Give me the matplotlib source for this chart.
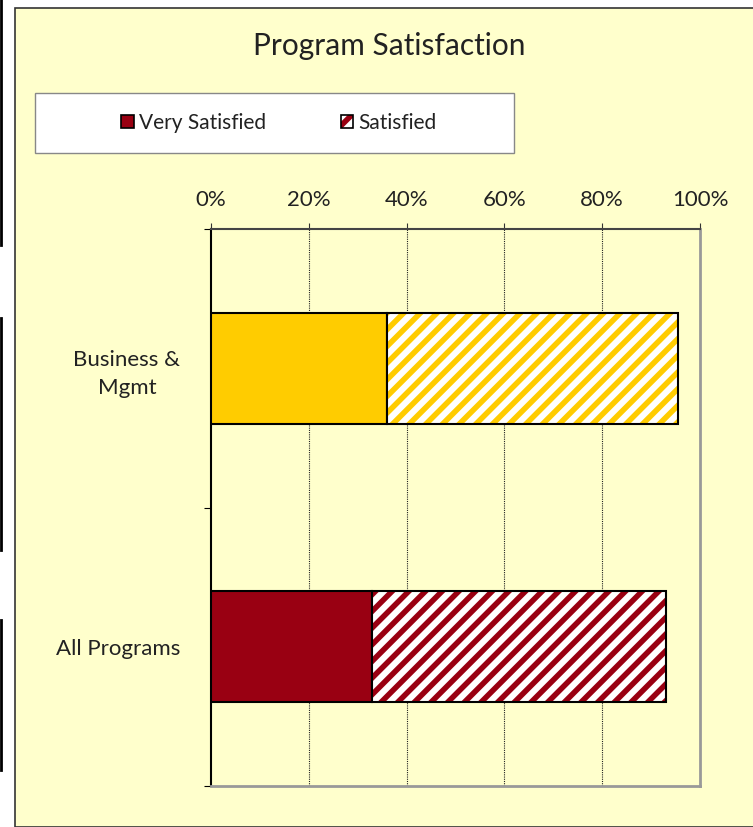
import matplotlib.pyplot as plt
from matplotlib.patches import Patch, Rectangle
from matplotlib.lines import Line2D

plt.rcParams['font.family'] = ['Lato', 'DejaVu Sans']
plt.rcParams['hatch.linewidth'] = 4

categories = ['Business &\nMgmt', 'All Programs']
very_satisfied = [36, 33]
satisfied = [59.5, 60]
colors = ['#FFCC00', '#990012']
xticks = [0, 20, 40, 60, 80, 100]

fig = plt.figure(figsize=(7.53, 8.27), dpi=100)
fig.patch.set_facecolor('white')

# chart area background
fig.patches.append(Rectangle((15 / 753, 0), 1, 1 - 8 / 827, transform=fig.transFigure,
                             facecolor='#FFFFCC', edgecolor='#333333', lw=1.2, zorder=-2))
# stray borders on the left edge
for y0, y1 in [(0, 245), (318, 550), (620, 770)]:
    fig.lines.append(Line2D([1 / 753, 1 / 753], [1 - y0 / 827, 1 - y1 / 827],
                            transform=fig.transFigure, color='black', lw=2))

ax = fig.add_axes([211 / 753, 1 - 786 / 827, 489 / 753, 557 / 827])
ax.set_facecolor('#FFFFCC')

ypos = [0.5, 1.5]
for i in range(len(categories)):
    ax.barh(ypos[i], very_satisfied[i], height=0.4, color=colors[i],
            edgecolor='black', lw=1.5, zorder=3)
    ax.barh(ypos[i], satisfied[i], left=very_satisfied[i], height=0.4, color='white',
            edgecolor=colors[i], hatch='//', lw=0, zorder=3)
    ax.barh(ypos[i], satisfied[i], left=very_satisfied[i], height=0.4, color='none',
            edgecolor='black', lw=1.5, zorder=4)

ax.set_xlim(0, 100)
ax.set_ylim(2, 0)
ax.xaxis.tick_top()
ax.set_xticks(xticks)
ax.set_xticklabels([f'{t}%' for t in xticks], fontsize=16, color='#222222')
ax.tick_params(axis='x', direction='out', length=4, pad=10, color='#333333')
ax.set_yticks([0, 1, 2])
ax.set_yticklabels([])
ax.tick_params(axis='y', which='major', direction='out', length=5, color='black')
ax.set_yticks(ypos, minor=True)
ax.set_yticklabels(categories, minor=True, fontsize=16, ha='right', ma='center',
                   linespacing=1.5, color='#222222')
ax.tick_params(axis='y', which='minor', length=0, pad=22)

for t in xticks[1:-1]:
    ax.axvline(t, color='#222222', lw=0.8, ls=(0, (1, 1)), zorder=1)

ax.spines['top'].set_color('#444444')
ax.spines['top'].set_linewidth(1.5)
ax.spines['left'].set_color('black')
ax.spines['left'].set_linewidth(1.5)
ax.spines['right'].set_color('#999999')
ax.spines['right'].set_linewidth(2)
ax.spines['bottom'].set_color('#999999')
ax.spines['bottom'].set_linewidth(2)

fig.text(389 / 753, 1 - 46 / 827, 'Program Satisfaction', fontsize=21.5,
         ha='center', va='center', color='#222222')

# legend box
fig.patches.append(Rectangle((35 / 753, 1 - 153 / 827), 479 / 753, 60 / 827,
                             transform=fig.transFigure, facecolor='white',
                             edgecolor='#888888', lw=1, zorder=2))
handles = [Patch(facecolor=colors[1], edgecolor='black', lw=1.2),
           (Patch(facecolor='white', edgecolor=colors[1], hatch='//', lw=0),
            Patch(facecolor='none', edgecolor='black', lw=1.2))]
leg = fig.legend(handles=handles, labels=['Very Satisfied', 'Satisfied'], loc='center',
                 bbox_to_anchor=(279 / 753, 1 - 123 / 827),
                 ncol=2, frameon=False, fontsize=15, handlelength=0.6, handleheight=0.6,
                 handletextpad=0.25, columnspacing=3.6)
leg.set_zorder(3)
for txt in leg.get_texts():
    txt.set_color('#222222')

fig.savefig('out.png', dpi=100)
